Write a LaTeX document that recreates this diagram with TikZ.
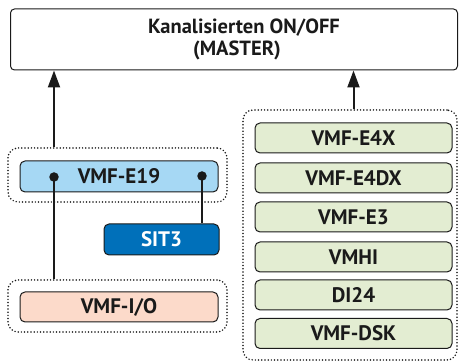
\documentclass[tikz,border=0pt]{standalone}
\usepackage{fontspec}
\setmainfont{PT Sans}
\usetikzlibrary{arrows.meta}
\definecolor{txt}{HTML}{1A1A1A}
\definecolor{lblue}{HTML}{A6D8F4}
\definecolor{dblue}{HTML}{0070BA}
\definecolor{salmon}{HTML}{FCDACA}
\definecolor{lgreen}{HTML}{E3EDD2}
\tikzset{
  box/.style={draw=txt, line width=1pt, rounded corners=5pt, inner sep=0pt,
    font=\bfseries\fontsize{21}{24}\selectfont, text=txt},
  grp/.style={draw=txt, line width=1.7pt, dash pattern=on 0pt off 3.2pt, line cap=round,
    rounded corners=10pt, inner sep=0pt},
  conn/.style={draw=txt, line width=2pt},
  arr/.style={draw=txt, line width=2pt, -{Triangle[length=17pt,width=12pt]}},
  dotnode/.style={circle, fill=txt, inner sep=0pt, minimum size=9.5pt},
}
\begin{document}
\begin{tikzpicture}[x=1pt, y=-1pt]
\useasboundingbox (0,0) rectangle (459,363);
\node[box, rounded corners=4pt, fill=white, minimum width=447pt, minimum height=61pt, align=center,
  font=\bfseries\fontsize{20.5}{22}\selectfont] (master) at (234,39.5)
  {\hspace*{20pt}Kanalisierten ON/OFF\\\hspace*{6pt}(MASTER)};
% left groups
\node[grp, minimum width=219pt, minimum height=54pt] (e19grp) at (117.5,175) {};
\node[box, fill=lblue, minimum width=198pt, minimum height=31pt] (e19) at (119,176.5) {VMF-E19};
\node[box, fill=dblue, text=white, minimum width=115pt, minimum height=31pt] (sit) at (161.5,239.5) {SIT3};
\node[grp, minimum width=219pt, minimum height=52pt] (iogrp) at (117.5,306) {};
\node[box, fill=salmon, minimum width=198pt, minimum height=30pt] (io) at (119,307) {VMF-I/O};
% right group
\node[grp, minimum width=214pt, minimum height=250pt] (rgrp) at (350,235) {};
\foreach \n/\y/\t in {g1/138/VMF-E4X, g2/178/VMF-E4DX, g3/217/VMF-E3, g4/257/VMHI, g5/295/DI24, g6/333.5/VMF-DSK}
  \node[box, fill=lgreen, minimum width=197pt, minimum height=30pt] (\n) at (353.5,\y) {\t};
% dots and connectors
\node[dotnode] (dl) at (54,177) {};
\node[dotnode] (dr) at (202,176) {};
\draw[conn] (dl.center) -- (iogrp.north -| dl);
\draw[conn] (dr.center) -- (sit.north -| dr);
\draw[arr] (e19grp.north -| dl) -- (master.south -| dl);
\draw[arr] (rgrp.north -| g1) -- (master.south -| g1);
\end{tikzpicture}
\end{document}
